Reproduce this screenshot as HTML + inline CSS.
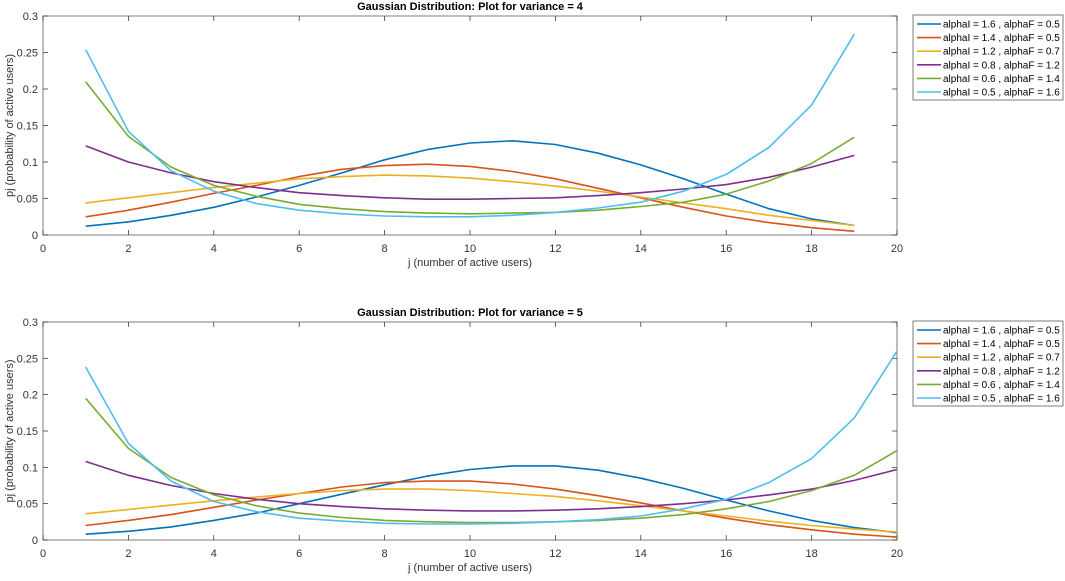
<!DOCTYPE html>
<html><head><meta charset="utf-8">
<style>
html,body{margin:0;padding:0;background:#fff;}
svg text{font-family:"Liberation Sans",Arial,sans-serif;}
</style></head>
<body>
<svg id="chart" width="1065" height="576" viewBox="0 0 1065 576" xmlns="http://www.w3.org/2000/svg"></svg>
<script>
const legendLabels = ["alphaI = 1.6 , alphaF = 0.5","alphaI = 1.4 , alphaF = 0.5","alphaI = 1.2 , alphaF = 0.7","alphaI = 0.8 , alphaF = 1.2","alphaI = 0.6 , alphaF = 1.4","alphaI = 0.5 , alphaF = 1.6"];
const xTicks = [0,2,4,6,8,10,12,14,16,18,20];
const yTicks = [0,0.05,0.1,0.15,0.2,0.25,0.3];
const yTickLabels = ["0","0.05","0.1","0.15","0.2","0.25","0.3"];
const titles = ["Gaussian Distribution: Plot for variance = 4","Gaussian Distribution: Plot for variance = 5"];
const var4Blue   = [.012,.018,.027,.038,.052,.068,.085,.103,.117,.126,.129,.124,.112,.096,.077,.056,.036,.022,.013];
const var4Orange = [.025,.034,.045,.057,.068,.080,.090,.095,.097,.094,.087,.077,.064,.051,.038,.026,.017,.010,.005];
const var4Yellow = [.044,.051,.058,.065,.071,.077,.080,.082,.081,.078,.073,.067,.060,.052,.044,.036,.027,.020,.013];
const var4Purple = [.122,.100,.085,.073,.065,.058,.054,.051,.049,.049,.050,.051,.054,.058,.063,.069,.079,.093,.109];
const var4Green  = [.210,.135,.093,.068,.053,.042,.036,.032,.030,.029,.030,.031,.034,.039,.045,.056,.074,.098,.134];
const var4Cyan   = [.254,.142,.088,.060,.043,.034,.029,.026,.025,.025,.027,.031,.037,.045,.060,.083,.120,.178,.275];
const var5Blue   = [.008,.012,.018,.027,.037,.050,.063,.076,.088,.097,.102,.102,.096,.085,.071,.055,.040,.027,.017,.010];
const var5Orange = [.020,.027,.035,.045,.055,.064,.073,.079,.081,.081,.077,.070,.061,.051,.040,.030,.021,.014,.008,.004];
const var5Yellow = [.036,.042,.048,.054,.059,.064,.068,.070,.070,.068,.064,.060,.054,.047,.040,.033,.026,.020,.015,.011];
const var5Purple = [.108,.089,.075,.064,.056,.050,.046,.043,.041,.040,.040,.041,.043,.046,.050,.055,.062,.070,.082,.097];
const var5Green  = [.195,.126,.086,.062,.047,.037,.031,.027,.025,.024,.024,.025,.027,.030,.035,.043,.053,.068,.089,.123];
const var5Cyan   = [.238,.133,.081,.053,.039,.030,.026,.023,.022,.022,.023,.025,.028,.033,.043,.056,.079,.112,.168,.260];

const colors = ["#0072BD","#D95319","#EDB120","#7E2F8E","#77AC30","#4DBEEE"];
const NS = "http://www.w3.org/2000/svg";
const svg = document.getElementById("chart");
function mk(tag, attrs, parent){const e=document.createElementNS(NS,tag);for(const k in attrs)e.setAttribute(k,attrs[k]);(parent||svg).appendChild(e);return e;}

const panels = [
  {top:16,bottom:235,series:[var4Blue,var4Orange,var4Yellow,var4Purple,var4Green,var4Cyan],name:"variance-4"},
  {top:322,bottom:540,series:[var5Blue,var5Orange,var5Yellow,var5Purple,var5Green,var5Cyan],name:"variance-5"}
];
const L=43,R=897;
panels.forEach((p,pi)=>{
  const g=mk("g",{});
  
  
  const sx=v=>L+(v-0)/20*(R-L);
  const sy=v=>p.bottom-(v/0.3)*(p.bottom-p.top);
  const box=mk("rect",{x:L,y:p.top,width:R-L,height:p.bottom-p.top,fill:"#fff",stroke:"#262626","stroke-width":0.6},g);
  
  
  xTicks.forEach(t=>{
    const x=sx(t);
    mk("line",{x1:x,x2:x,y1:p.bottom,y2:p.bottom-5,stroke:"#262626","stroke-width":0.7},g);
    mk("line",{x1:x,x2:x,y1:p.top,y2:p.top+5,stroke:"#262626","stroke-width":0.7},g);
    const tx=mk("text",{x:x,y:p.bottom+17,"font-size":11,fill:"#333","text-anchor":"middle"},g);
    tx.textContent=t;
    
    
  });
  yTicks.forEach((t,i)=>{
    const y=sy(t);
    mk("line",{x1:L,x2:L+5,y1:y,y2:y,stroke:"#262626","stroke-width":0.7},g);
    mk("line",{x1:R,x2:R-5,y1:y,y2:y,stroke:"#262626","stroke-width":0.7},g);
    const tx=mk("text",{x:L-5,y:y+4,"font-size":11,fill:"#333","text-anchor":"end"},g);
    tx.textContent=yTickLabels[i];
    
    
  });
  const title=mk("text",{x:470,y:p.top-6,"font-size":11,"font-weight":"bold",fill:"#000","text-anchor":"middle"},g);
  title.textContent=titles[pi];
  
  
  const xl=mk("text",{x:470,y:p.bottom+31,"font-size":11,fill:"#333","text-anchor":"middle"},g);
  xl.textContent="j (number of active users)";
  
  
  const cy=(p.top+p.bottom)/2;
  const yl=mk("text",{x:13,y:cy,"font-size":11,fill:"#333","text-anchor":"middle",transform:`rotate(-90 13 ${cy})`},g);
  yl.textContent="pj (probability of active users)";
  
  
  p.series.forEach((s,si)=>{
    const pts=s.map((v,i)=>sx(i+1).toFixed(1)+","+sy(v).toFixed(1)).join(" ");
    const pl=mk("polyline",{points:pts,fill:"none",stroke:colors[si],"stroke-width":1.6,"stroke-linejoin":"round"},g);
    
    
  });
  const lt=p.top-1;
  const lg=mk("g",{},g);
  
  
  mk("rect",{x:913,y:lt,width:150,height:85,fill:"#fff",stroke:"#262626","stroke-width":0.6},lg);
  legendLabels.forEach((lab,i)=>{
    const y=lt+9+i*13.6;
    mk("line",{x1:917,x2:941,y1:y,y2:y,stroke:colors[i],"stroke-width":1.6},lg);
    const t=mk("text",{x:943,y:y+3.5,"font-size":10,fill:"#000"},lg);
    t.textContent=lab;
    
    
  });
});
</script>
</body></html>
